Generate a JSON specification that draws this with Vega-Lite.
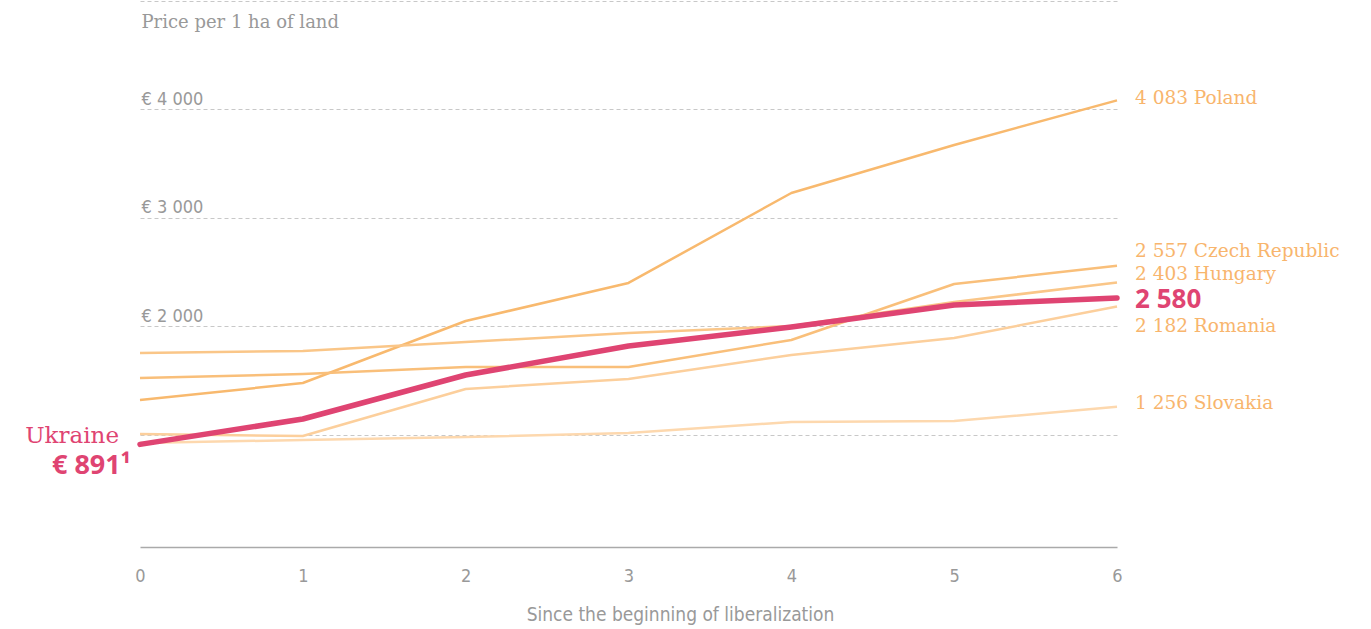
{
  "$schema": "https://vega.github.io/schema/vega-lite/v6.json",
  "width": 977,
  "height": 542,
  "autosize": {"type": "none"},
  "padding": {"left": 140, "top": 1, "right": 254, "bottom": 86},
  "background": "white",
  "config": {"view": {"stroke": null}, "font": "DejaVu Serif"},
  "datasets": {
    "prices": [
      {"country": "Poland", "year": 0, "price": 1319},
      {"country": "Poland", "year": 1, "price": 1476},
      {"country": "Poland", "year": 2, "price": 2048},
      {"country": "Poland", "year": 3, "price": 2399},
      {"country": "Poland", "year": 4, "price": 3229},
      {"country": "Poland", "year": 5, "price": 3672},
      {"country": "Poland", "year": 6, "price": 4083},
      {"country": "Czech Republic", "year": 0, "price": 1522},
      {"country": "Czech Republic", "year": 1, "price": 1559},
      {"country": "Czech Republic", "year": 2, "price": 1624},
      {"country": "Czech Republic", "year": 3, "price": 1624},
      {"country": "Czech Republic", "year": 4, "price": 1873},
      {"country": "Czech Republic", "year": 5, "price": 2389},
      {"country": "Czech Republic", "year": 6, "price": 2557},
      {"country": "Hungary", "year": 0, "price": 1753},
      {"country": "Hungary", "year": 1, "price": 1771},
      {"country": "Hungary", "year": 2, "price": 1854},
      {"country": "Hungary", "year": 3, "price": 1937},
      {"country": "Hungary", "year": 4, "price": 2002},
      {"country": "Hungary", "year": 5, "price": 2223},
      {"country": "Hungary", "year": 6, "price": 2403},
      {"country": "Romania", "year": 0, "price": 1006},
      {"country": "Romania", "year": 1, "price": 987},
      {"country": "Romania", "year": 2, "price": 1421},
      {"country": "Romania", "year": 3, "price": 1513},
      {"country": "Romania", "year": 4, "price": 1734},
      {"country": "Romania", "year": 5, "price": 1891},
      {"country": "Romania", "year": 6, "price": 2182},
      {"country": "Slovakia", "year": 0, "price": 923},
      {"country": "Slovakia", "year": 1, "price": 950},
      {"country": "Slovakia", "year": 2, "price": 978},
      {"country": "Slovakia", "year": 3, "price": 1015},
      {"country": "Slovakia", "year": 4, "price": 1116},
      {"country": "Slovakia", "year": 5, "price": 1125},
      {"country": "Slovakia", "year": 6, "price": 1256},
      {"country": "Ukraine", "year": 0, "price": 910},
      {"country": "Ukraine", "year": 1, "price": 1144},
      {"country": "Ukraine", "year": 2, "price": 1550},
      {"country": "Ukraine", "year": 3, "price": 1817},
      {"country": "Ukraine", "year": 4, "price": 1993},
      {"country": "Ukraine", "year": 5, "price": 2196},
      {"country": "Ukraine", "year": 6, "price": 2260}
    ],
    "labels": [
      {"country": "Poland", "year": 6, "price": 4083, "label": "4 083 Poland"},
      {"country": "Czech Republic", "year": 6, "price": 2557, "label": "2 557 Czech Republic"},
      {"country": "Hungary", "year": 6, "price": 2403, "label": "2 403 Hungary"},
      {"country": "Romania", "year": 6, "price": 2182, "label": "2 182 Romania"},
      {"country": "Slovakia", "year": 6, "price": 1256, "label": "1 256 Slovakia"},
      {"country": "Ukraine", "year": 6, "price": 2260, "label": "2 580"},
      {"country": "Ukraine start", "year": 0, "price": 910, "label": "Ukraine"},
      {"country": "Ukraine value", "year": 0, "price": 910, "label": "€ 891¹"}
    ]
  },
  "encoding": {
    "x": {
      "field": "year",
      "type": "quantitative",
      "scale": {"domain": [0, 6], "nice": false, "zero": false},
      "axis": {
        "values": [0, 1, 2, 3, 4, 5, 6],
        "grid": false,
        "ticks": false,
        "tickSize": 0,
        "offset": 4,
        "domainColor": "#aaaaaa",
        "domainWidth": 1.5,
        "labelFlush": false,
        "labelPadding": 20,
        "labelFont": "Liberation Sans Narrow, DejaVu Sans Condensed, Roboto",
        "labelFontSize": 18,
        "labelColor": "#999999",
        "title": "Since the beginning of liberalization",
        "titleFont": "Liberation Sans Narrow, DejaVu Sans Condensed, Roboto",
        "titleFontSize": 19,
        "titleFontWeight": "normal",
        "titleColor": "#999999",
        "titleAlign": "center",
        "titleBaseline": "alphabetic",
        "titleX": 540,
        "titleY": 73
      }
    },
    "y": {
      "field": "price",
      "type": "quantitative",
      "scale": {"domain": [0, 5000], "nice": false},
      "axis": {
        "values": [1000, 2000, 3000, 4000, 5000],
        "grid": true,
        "gridDash": [4, 3],
        "gridColor": "#c8c8c8",
        "gridWidth": 1,
        "domain": false,
        "ticks": false,
        "tickSize": 0,
        "labelAlign": "left",
        "labelBaseline": "alphabetic",
        "labelPadding": -1,
        "labelOffset": -5,
        "labelFont": "Liberation Sans Narrow, DejaVu Sans Condensed, Roboto",
        "labelFontSize": 18,
        "labelColor": "#999999",
        "labelExpr": "datum.value == 5000 || datum.value == 1000 ? '' : '€ ' + replace(format(datum.value, ','), ',', ' ')",
        "title": "Price per 1 ha of land",
        "titleAngle": 0,
        "titleAlign": "left",
        "titleBaseline": "alphabetic",
        "titleX": 1,
        "titleY": 26,
        "titleFont": "DejaVu Serif",
        "titleFontSize": 18,
        "titleFontWeight": "normal",
        "titleColor": "#999999"
      }
    }
  },
  "layer": [
    {
      "data": {"name": "prices"},
      "transform": [{"filter": "datum.country != 'Ukraine'"}],
      "mark": {"type": "line", "strokeWidth": 2.5, "strokeJoin": "round"},
      "encoding": {
        "color": {
          "field": "country",
          "type": "nominal",
          "scale": {
            "domain": ["Poland", "Czech Republic", "Hungary", "Romania", "Slovakia"],
            "range": ["#f8b96e", "#f9bf7a", "#fac688", "#fccf9c", "#fdd8ae"]
          },
          "legend": null
        }
      }
    },
    {
      "data": {"name": "prices"},
      "transform": [{"filter": "datum.country == 'Ukraine'"}],
      "mark": {"type": "line", "strokeWidth": 5.5, "strokeCap": "round", "strokeJoin": "round", "color": "#df4472"}
    },
    {
      "data": {"name": "labels"},
      "transform": [{"filter": "datum.country == 'Poland'"}],
      "mark": {"type": "text", "align": "left", "baseline": "middle", "dx": 18, "dy": -2, "fontSize": 18.5, "color": "#f8b56d"},
      "encoding": {"text": {"field": "label"}}
    },
    {
      "data": {"name": "labels"},
      "transform": [{"filter": "datum.country == 'Czech Republic'"}],
      "mark": {"type": "text", "align": "left", "baseline": "middle", "dx": 18, "dy": -15, "fontSize": 18.5, "color": "#f8b56d"},
      "encoding": {"text": {"field": "label"}}
    },
    {
      "data": {"name": "labels"},
      "transform": [{"filter": "datum.country == 'Hungary'"}],
      "mark": {"type": "text", "align": "left", "baseline": "middle", "dx": 18, "dy": -9, "fontSize": 18.5, "color": "#f8b56d"},
      "encoding": {"text": {"field": "label"}}
    },
    {
      "data": {"name": "labels"},
      "transform": [{"filter": "datum.country == 'Romania'"}],
      "mark": {"type": "text", "align": "left", "baseline": "middle", "dx": 18, "dy": 20, "fontSize": 18.5, "color": "#f8b56d"},
      "encoding": {"text": {"field": "label"}}
    },
    {
      "data": {"name": "labels"},
      "transform": [{"filter": "datum.country == 'Slovakia'"}],
      "mark": {"type": "text", "align": "left", "baseline": "middle", "dx": 18, "dy": -4, "fontSize": 18.5, "color": "#f8b56d"},
      "encoding": {"text": {"field": "label"}}
    },
    {
      "data": {"name": "labels"},
      "transform": [{"filter": "datum.country == 'Ukraine'"}],
      "mark": {"type": "text", "align": "left", "baseline": "middle", "dx": 18, "dy": 2, "fontSize": 26, "fontWeight": "bold", "font": "Noto Sans", "color": "#df4472"},
      "encoding": {"text": {"field": "label"}}
    },
    {
      "data": {"name": "labels"},
      "transform": [{"filter": "datum.country == 'Ukraine start'"}],
      "mark": {"type": "text", "align": "right", "baseline": "middle", "dx": -21, "dy": -8, "fontSize": 23, "color": "#df4472"},
      "encoding": {"text": {"field": "label"}}
    },
    {
      "data": {"name": "labels"},
      "transform": [{"filter": "datum.country == 'Ukraine value'"}],
      "mark": {"type": "text", "align": "right", "baseline": "middle", "dx": -9, "dy": 22, "fontSize": 27, "fontWeight": "bold", "font": "Noto Sans", "color": "#df4472"},
      "encoding": {"text": {"field": "label"}}
    }
  ]
}
